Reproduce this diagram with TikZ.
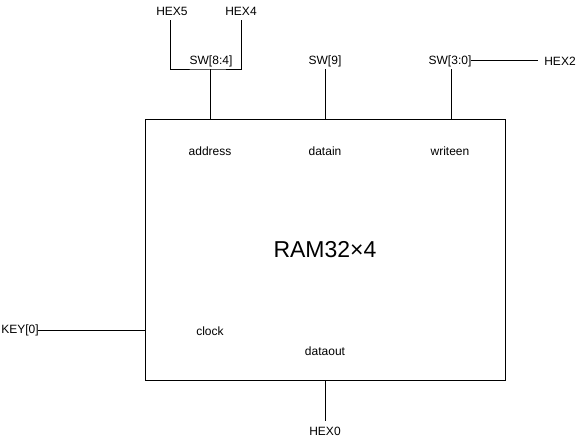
\documentclass[tikz,border=0pt]{standalone}
\usepackage{fontspec}
\setmainfont{Liberation Sans}
\begin{document}
\begin{tikzpicture}[x=1pt,y=-1pt,
  lbl/.style={inner sep=0pt,font=\fontsize{12}{14}\selectfont},
  wire/.style={line width=1pt,line cap=rect}]
\useasboundingbox (0,0) rectangle (581,441);
\node[draw,line width=1pt,minimum width=360pt,minimum height=260pt,inner sep=0pt] (ram) at (325,250) {};
\node[inner sep=0pt,font=\fontsize{23}{26}\selectfont] (title) at (325,250) {RAM32×4};
\node[lbl] (address) at (210,151) {address};
\node[lbl] (datain) at (325,151) {datain};
\node[lbl] (writeen) at (450,151) {writeen};
\node[lbl] (clock) at (210,331) {clock};
\node[lbl] (dataout) at (325,351) {dataout};
\node[lbl] (hex5) at (172,11) {HEX5};
\node[lbl] (hex4) at (241,11) {HEX4};
\node[lbl] (sw84) at (211,61) {SW[8:4]};
\node[lbl] (sw9) at (325,61) {SW[9]};
\node[lbl] (sw30) at (450,61) {SW[3:0]};
\node[lbl] (hex2) at (560,61) {HEX2};
\node[lbl] (key0) at (20,330) {KEY[0]};
\node[lbl] (hex0) at (325,431) {HEX0};
\coordinate (a5) at (170,21);
\coordinate (a4) at (241,21);
\coordinate (j84) at (210,70);
\draw[wire] (a5) |- (j84) -| (a4);
\draw[wire] (j84) -- (j84 |- ram.north);
\coordinate (j9) at (325,70);
\draw[wire] (j9) -- (j9 |- ram.north);
\coordinate (j30) at (451,70);
\draw[wire] (j30) -- (j30 |- ram.north);
\draw[wire] (sw30.east) -- (hex2.west -| 537,0);
\draw[wire] (key0.east) -- (key0.east -| ram.west);
\coordinate (h0) at (325,420);
\draw[wire] (ram.south -| h0) -- (h0);
\end{tikzpicture}
\end{document}
